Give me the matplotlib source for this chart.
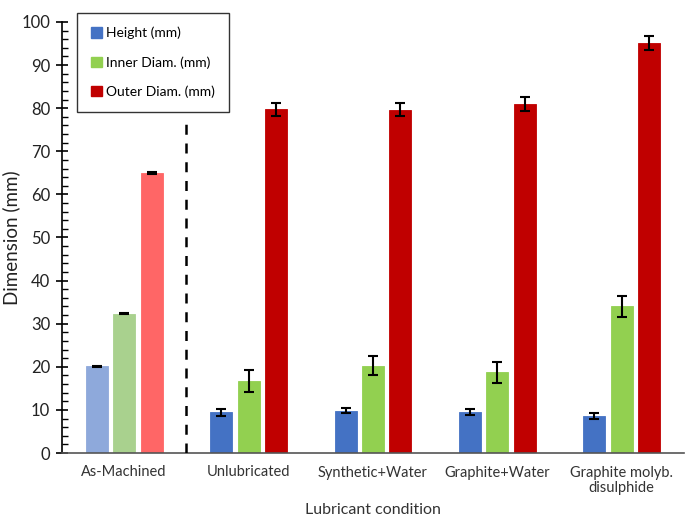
import matplotlib
matplotlib.use("Agg")
import matplotlib.pyplot as plt
from matplotlib.patches import Patch
from matplotlib.ticker import MultipleLocator
import numpy as np

plt.rcParams['font.family'] = ['Lato', 'DejaVu Sans']

categories = ["As-Machined", "Unlubricated", "Synthetic+Water", "Graphite+Water",
              "Graphite molyb.\ndisulphide"]
series = ["Height (mm)", "Inner Diam. (mm)", "Outer Diam. (mm)"]
height = [20.1, 9.5, 9.8, 9.5, 8.6]
height_err = [0.15, 0.8, 0.6, 0.7, 0.7]
inner = [32.3, 16.7, 20.3, 18.7, 34.0]
inner_err = [0.15, 2.5, 2.3, 2.4, 2.4]
outer = [65.0, 79.8, 79.6, 80.9, 95.2]
outer_err = [0.2, 1.5, 1.5, 1.6, 1.6]
divider_top = 78

dark_colors = ["#4472C4", "#92D050", "#C00000"]
light_colors = ["#8EA9DB", "#A9D18E", "#FF6666"]

fig = plt.figure(figsize=(6.85, 5.19), dpi=100)
ax = fig.add_axes([62/685, 1-453/519, 622/685, (453-22)/519])

x = np.arange(len(categories))
width = 0.177
step = 0.22
data = [(height, height_err), (inner, inner_err), (outer, outer_err)]
for i, (vals, errs) in enumerate(data):
    off = (i - 1) * step
    cols = [light_colors[i]] + [dark_colors[i]] * (len(categories) - 1)
    ax.bar(x + off, vals, width, color=cols, edgecolor=cols, linewidth=0.6, zorder=2)
    ax.errorbar(x + off, vals, yerr=errs, fmt='none', ecolor='black',
                elinewidth=1.5, capsize=3.5, capthick=1.5, zorder=3)

ax.plot([0.5, 0.5], [0, divider_top], color='black', linestyle=(0, (4, 3.5)), lw=1.8, zorder=3)

ax.set_xlim(-0.5, len(categories) - 0.5)
ax.set_ylim(0, 100)
ax.set_xticks(x)
ax.set_xticklabels(categories, fontsize=10.5, color='#333333', linespacing=1.1)
ax.tick_params(axis='x', length=0, pad=9)
ax.yaxis.set_major_locator(MultipleLocator(10))
ax.yaxis.set_minor_locator(MultipleLocator(2))
ax.tick_params(axis='y', which='major', direction='inout', length=9, width=1.2,
               labelsize=12, colors='black', labelcolor='#222222', pad=4)
ax.tick_params(axis='y', which='minor', direction='in', length=4, width=1.0)
for s in ['top', 'right']:
    ax.spines[s].set_visible(False)
ax.spines['left'].set_linewidth(1.2)
ax.spines['bottom'].set_color('#555555')
ax.spines['bottom'].set_linewidth(1.2)

ax.set_ylabel("Dimension (mm)", fontsize=13.5, color='#222222')
ax.yaxis.set_label_coords(-0.068, 0.5)
ax.set_xlabel("Lubricant condition", fontsize=11.5, color='#333333', labelpad=6)

handles = [Patch(facecolor=c, edgecolor=c) for c in dark_colors]
leg = fig.legend(handles, series, loc='upper left', bbox_to_anchor=(77/685, 1-13/519),
                 fontsize=10, frameon=True, fancybox=False, edgecolor='black',
                 handlelength=0.8, handleheight=0.8, handletextpad=0.3,
                 labelspacing=1.2, borderpad=1.0, borderaxespad=0)
leg.get_frame().set_linewidth(1.0)

fig.savefig("out.png", dpi=100)
